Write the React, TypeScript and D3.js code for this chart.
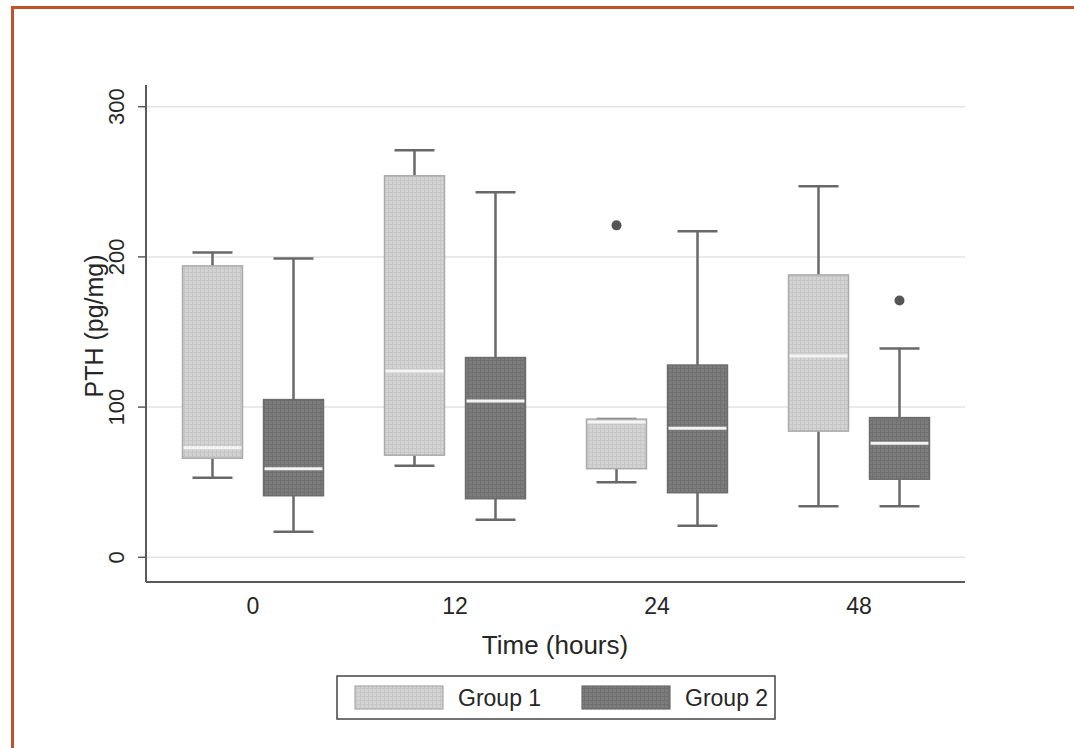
import React from "react";
import * as d3 from "d3";

// time points and groups
const times = ["0", "12", "24", "48"];
const groups = ["Group 1", "Group 2"];

// box statistics (pg/mg)
const g1Low = [53, 61, 50, 34];
const g1Q1 = [66, 68, 59, 84];
const g1Median = [73, 124, 90, 134];
const g1Q3 = [194, 254, 92, 188];
const g1High = [203, 271, 92, 247];
const g1Outliers = [[], [], [221], []];

const g2Low = [17, 25, 21, 34];
const g2Q1 = [41, 39, 43, 52];
const g2Median = [59, 104, 86, 76];
const g2Q3 = [105, 133, 128, 93];
const g2High = [199, 243, 217, 139];
const g2Outliers = [[], [], [], [171]];

const yTicks = [0, 100, 200, 300];

const fills = { "Group 1": "url(#patLight)", "Group 2": "url(#patDark)" };
const strokes = { "Group 1": "#a9a9a9", "Group 2": "#6c6c6c" };

const W = 1074;
const H = 748;
const axisLeftX = 146;
const axisRightX = 965;
const axisBottomY = 582;
const axisTopY = 85;
const font = "'Liberation Sans', Arial, sans-serif";
const ink = "#262626";

export default function App() {
  const x = d3.scaleBand().domain(times).range([152, 960]);
  const xg = d3
    .scaleBand()
    .domain(groups)
    .range([0, x.bandwidth()])
    .paddingInner(0.26)
    .paddingOuter(0.377);
  const y = d3.scaleLinear().domain([0, 300]).range([557.3, 106.7]);

  const rows = groups.flatMap((g) =>
    times.map((t, i) => {
      const one = g === "Group 1";
      return {
        group: g,
        time: t,
        low: (one ? g1Low : g2Low)[i],
        q1: (one ? g1Q1 : g2Q1)[i],
        median: (one ? g1Median : g2Median)[i],
        q3: (one ? g1Q3 : g2Q3)[i],
        high: (one ? g1High : g2High)[i],
        outliers: (one ? g1Outliers : g2Outliers)[i],
      };
    })
  );

  const capW = 40;
  const lineColor = "#686868";

  return (
    <svg
      width={W}
      height={H}
      style={{ position: "absolute", left: 0, top: 0, background: "#fff" }}
    >
      <defs>
        <pattern id="patLight" width={4} height={4} patternUnits="userSpaceOnUse">
          <rect width={4} height={4} fill="#d3d3d3" />
          <path d="M0 0.5H4M0.5 0V4" stroke="#c6c6c6" strokeWidth={1} />
        </pattern>
        <pattern id="patDark" width={4} height={4} patternUnits="userSpaceOnUse">
          <rect width={4} height={4} fill="#7c7c7c" />
          <path d="M0 0.5H4M0.5 0V4" stroke="#707070" strokeWidth={1} />
        </pattern>
      </defs>

      {/* orange frame */}
      <rect x={12.5} y={7.5} width={W + 20} height={H + 20} fill="none" stroke="#c2522b" strokeWidth={3} />

      {/* gridlines */}
      {yTicks.map((t) => (
        <line
          key={"g" + t}
          x1={axisLeftX}
          x2={axisRightX}
          y1={y(t)}
          y2={y(t)}
          stroke="#e3e3e3"
          strokeWidth={1.5}
        />
      ))}

      {/* y axis */}
      <line x1={axisLeftX} x2={axisLeftX} y1={axisTopY} y2={axisBottomY} stroke="#5a5a5a" strokeWidth={2} />
      {yTicks.map((t) => (
        <g key={"t" + t}>
          <line x1={axisLeftX - 8} x2={axisLeftX} y1={y(t)} y2={y(t)} stroke="#5a5a5a" strokeWidth={1.5} />
          <text
            transform={`translate(124,${y(t)}) rotate(-90)`}
            textAnchor="middle"
            fontFamily={font}
            fontSize={22}
            fill={ink}
          >
            {t}
          </text>
        </g>
      ))}
      <text
        transform={`translate(103,326) rotate(-90)`}
        textAnchor="middle"
        fontFamily={font}
        fontSize={25}
        fill={ink}
      >
        PTH (pg/mg)
      </text>

      {/* x axis */}
      <line x1={axisLeftX} x2={axisRightX} y1={axisBottomY} y2={axisBottomY} stroke="#5a5a5a" strokeWidth={2} />
      {times.map((t) => (
        <text
          key={"x" + t}
          x={(x(t) as number) + x.bandwidth() / 2}
          y={614}
          textAnchor="middle"
          fontFamily={font}
          fontSize={23}
          fill={ink}
        >
          {t}
        </text>
      ))}
      <text x={555} y={654} textAnchor="middle" fontFamily={font} fontSize={26} fill={ink}>
        Time (hours)
      </text>

      {/* boxes */}
      {rows.map((d) => {
        const x0 = (x(d.time) as number) + (xg(d.group) as number);
        const bw = xg.bandwidth();
        const cx = x0 + bw / 2;
        return (
          <g key={d.group + d.time}>
            <line x1={cx} x2={cx} y1={y(d.q3)} y2={y(d.high)} stroke={lineColor} strokeWidth={2.5} />
            <line x1={cx} x2={cx} y1={y(d.q1)} y2={y(d.low)} stroke={lineColor} strokeWidth={2.5} />
            <line x1={cx - capW / 2} x2={cx + capW / 2} y1={y(d.high)} y2={y(d.high)} stroke={lineColor} strokeWidth={2.5} />
            <line x1={cx - capW / 2} x2={cx + capW / 2} y1={y(d.low)} y2={y(d.low)} stroke={lineColor} strokeWidth={2.5} />
            <rect
              x={x0}
              y={y(d.q3)}
              width={bw}
              height={y(d.q1) - y(d.q3)}
              fill={fills[d.group]}
              stroke={strokes[d.group]}
              strokeWidth={1.5}
            />
            <line x1={x0 + 1} x2={x0 + bw - 1} y1={y(d.median)} y2={y(d.median)} stroke="#f4f4f4" strokeWidth={3} />
            {d.outliers.map((o, k) => (
              <circle key={k} cx={cx} cy={y(o)} r={5} fill="#555" />
            ))}
          </g>
        );
      })}

      {/* legend */}
      <rect x={337} y={676} width={438} height={43} fill="#fff" stroke="#444" strokeWidth={1.5} />
      {groups.map((g, i) => {
        const sx = i === 0 ? 355 : 582;
        return (
          <g key={"l" + g}>
            <rect x={sx} y={686} width={88} height={23} fill={fills[g]} stroke={strokes[g]} strokeWidth={1.2} />
            <text x={sx + 103} y={706} fontFamily={font} fontSize={23} fill={ink}>
              {g}
            </text>
          </g>
        );
      })}
    </svg>
  );
}
